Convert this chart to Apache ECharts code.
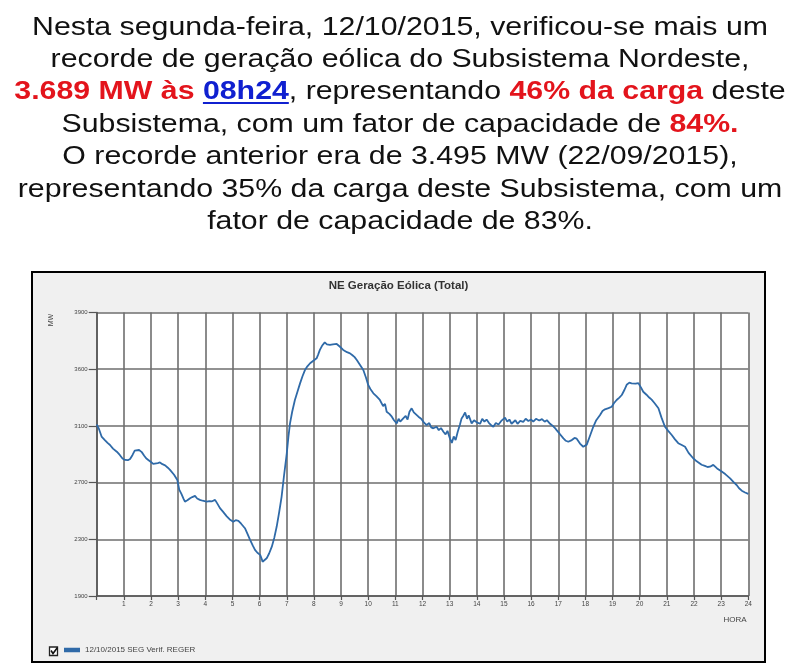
<!DOCTYPE html>
<html><head><meta charset="utf-8">
<script src="https://cdn.jsdelivr.net/npm/echarts@6/dist/echarts.min.js"></script>
<style>html,body{margin:0;padding:0;background:#fff}#c{width:800px;height:672px}</style>
</head><body><div id="c"></div>
<script>
// ---- data ----
const hours = [0.00,0.08,0.18,0.30,0.40,0.49,0.60,0.74,0.85,0.95,1.04,1.15,1.23,1.32,1.40,1.47,1.56,1.66,1.75,1.82,1.90,2.00,2.08,2.15,2.25,2.33,2.42,2.52,2.62,2.70,2.76,2.85,2.97,3.04,3.12,3.20,3.25,3.34,3.44,3.52,3.62,3.70,3.80,3.90,4.05,4.15,4.25,4.36,4.45,4.54,4.65,4.79,4.90,5.03,5.12,5.22,5.32,5.46,5.55,5.65,5.75,5.83,5.92,6.02,6.08,6.11,6.18,6.26,6.35,6.45,6.54,6.63,6.72,6.81,6.90,7.00,7.06,7.12,7.20,7.30,7.40,7.49,7.58,7.67,7.76,7.86,7.98,8.10,8.16,8.22,8.30,8.40,8.48,8.59,8.70,8.84,8.95,9.08,9.15,9.22,9.33,9.42,9.50,9.58,9.70,9.82,9.92,10.00,10.08,10.19,10.30,10.43,10.55,10.62,10.68,10.78,10.87,10.95,11.05,11.12,11.18,11.29,11.38,11.45,11.52,11.60,11.68,11.75,11.85,11.95,12.05,12.15,12.25,12.32,12.40,12.52,12.60,12.68,12.77,12.85,12.92,13.01,13.08,13.15,13.22,13.30,13.38,13.44,13.50,13.57,13.64,13.70,13.81,13.90,14.00,14.12,14.20,14.28,14.36,14.45,14.53,14.61,14.70,14.80,14.90,15.04,15.12,15.20,15.28,15.34,15.42,15.50,15.60,15.71,15.80,15.90,16.00,16.08,16.18,16.30,16.40,16.50,16.58,16.70,16.80,16.88,16.94,17.05,17.19,17.28,17.37,17.50,17.60,17.68,17.80,17.92,18.05,18.15,18.29,18.40,18.54,18.63,18.72,18.85,18.97,19.05,19.15,19.25,19.34,19.44,19.52,19.62,19.70,19.76,19.85,19.95,20.05,20.13,20.25,20.35,20.44,20.55,20.69,20.80,20.93,21.05,21.18,21.30,21.42,21.55,21.67,21.80,21.97,22.10,22.28,22.40,22.50,22.59,22.71,22.85,23.02,23.15,23.33,23.45,23.57,23.66,23.76,23.88,24.00];
const mw = [3110,3080,3025,3000,2980,2965,2940,2918,2895,2870,2860,2858,2866,2895,2925,2935,2930,2915,2890,2872,2860,2845,2832,2824,2838,2842,2830,2822,2805,2790,2778,2755,2718,2650,2620,2585,2566,2575,2590,2598,2606,2588,2578,2572,2566,2570,2568,2578,2550,2520,2495,2462,2440,2424,2435,2430,2410,2378,2340,2296,2255,2225,2205,2190,2160,2142,2150,2166,2200,2248,2310,2390,2490,2600,2750,2905,3020,3118,3200,3283,3345,3400,3450,3494,3520,3542,3560,3577,3605,3636,3665,3689,3675,3671,3675,3678,3660,3636,3645,3620,3612,3598,3585,3565,3530,3494,3440,3389,3360,3330,3310,3283,3240,3255,3200,3185,3165,3140,3118,3150,3130,3153,3170,3145,3200,3224,3195,3205,3165,3150,3125,3106,3120,3090,3083,3094,3070,3085,3059,3040,3065,3012,2980,3025,3000,3060,3110,3153,3170,3195,3150,3175,3118,3140,3125,3115,3150,3130,3145,3120,3105,3094,3120,3110,3135,3158,3130,3145,3115,3118,3140,3115,3135,3128,3150,3135,3145,3130,3150,3138,3148,3130,3140,3115,3100,3085,3070,3045,3012,2995,2988,3000,3015,3010,2975,2953,2968,3020,3094,3140,3177,3205,3217,3225,3235,3260,3283,3300,3318,3355,3390,3405,3400,3410,3398,3402,3370,3341,3320,3300,3285,3260,3224,3160,3094,3065,3036,3005,2978,2965,2953,2910,2872,2850,2826,2818,2810,2812,2825,2800,2778,2760,2730,2705,2683,2660,2643,2630,2620];
const xTickLabels = ['','1','2','3','4','5','6','7','8','9','10','11','12','13','14','15','16','17','18','19','20','21','22','23','24'];
const yTickValues = [1900,2300,2700,3100,3500,3900];
const yTickLabels = ['1900','2300','2700','3100','3600','3900'];
const seriesName = '12/10/2015 SEG Verif. REGER';
const chartTitle = 'NE Geração Eólica (Total)';
const yName = 'MW';
const xName = 'HORA';
const headerLines = [
  [['n','Nesta segunda-feira, 12/10/2015, verificou-se mais um']],
  [['n','recorde de geração eólica do Subsistema Nordeste,']],
  [['r','3.689 MW às '],['u','08h24'],['n',', representando '],['r','46% da carga'],['n',' deste']],
  [['n','Subsistema, com um fator de capacidade de '],['r','84%.']],
  [['n','O recorde anterior era de 3.495 MW (22/09/2015),']],
  [['n','representando 35% da carga deste Subsistema, com um']],
  [['n','fator de capacidade de 83%.']]
];

// ---- layout / style ----
const FONT = 'Liberation Sans, Arial, sans-serif';
const HFS = 30.3, HSY = 0.85;
const headerCenters = [28, 60, 92, 125, 157, 190, 222];
const RED = '#e3141c', BLUE = '#1020d0', INK = '#111';
const rich = {
  n: {fontSize: HFS, fontFamily: FONT, fill: INK, color: INK},
  r: {fontSize: HFS, fontFamily: FONT, fill: RED, color: RED, fontWeight: 'bold'},
  u: {fontSize: HFS, fontFamily: FONT, fill: BLUE, color: BLUE, fontWeight: 'bold'}
};

const cv = document.createElement('canvas').getContext('2d');
function w(txt, bold){ cv.font = (bold?'bold ':'') + HFS + 'px ' + FONT; return cv.measureText(txt).width; }

const graphics = [];
graphics.push({type:'rect', z:-10, shape:{x:32, y:272, width:733, height:390},
  style:{fill:'#f0f0f0', stroke:'#000', lineWidth:2}});
headerLines.forEach((segs, i) => {
  const text = segs.map(s => '{' + s[0] + '|' + s[1] + '}').join('');
  graphics.push({type:'text', x:400, y:headerCenters[i], scaleY:HSY,
    style:{text:text, rich:rich, x:0, y:0, align:'center', verticalAlign:'middle', fontSize:HFS, fontFamily:FONT, fill:INK}});
  let total = 0; const widths = segs.map(s => { const ww = w(s[1], s[0] !== 'n'); total += ww; return ww; });
  let xx = 400 - total/2;
  segs.forEach((s, j) => {
    if (s[0] === 'u') {
      graphics.push({type:'line', shape:{x1:xx, y1:headerCenters[i]+11, x2:xx+widths[j], y2:headerCenters[i]+11},
        style:{stroke:BLUE, lineWidth:2}});
    }
    xx += widths[j];
  });
});
graphics.push({type:'text', x:398.5, y:286, style:{text:chartTitle, align:'center', verticalAlign:'middle',
  fontSize:11.5, fontWeight:'bold', fontFamily:FONT, fill:'#333'}});
graphics.push({type:'text', x:51.5, y:320, rotation:Math.PI/2, style:{text:yName, align:'center', verticalAlign:'middle',
  fontSize:7, fontFamily:FONT, fill:'#444'}});
graphics.push({type:'text', x:735, y:620, style:{text:xName, align:'center', verticalAlign:'middle',
  fontSize:8, fontFamily:FONT, fill:'#444'}});
graphics.push({type:'rect', shape:{x:49.5, y:647, width:8, height:8.5}, style:{fill:'#fff', stroke:'#222', lineWidth:1.3}});
graphics.push({type:'polyline', shape:{points:[[51,650.5],[53,653.5],[57.5,647.5]]}, style:{stroke:'#111', lineWidth:1.6, fill:null}});

const GRID = '#6e6e6e';
const option = {
  animation: false,
  backgroundColor: '#fff',
  textStyle: {fontFamily: FONT},
  grid: {left: 96.7, right: 51.7, top: 312.5, bottom: 76, show: true, backgroundColor: '#fff', borderWidth: 0},
  xAxis: {type: 'value', min: 0, max: 24, interval: 1,
    axisLine: {show: true, lineStyle: {color: '#555', width: 1.5}},
    axisTick: {show: true, length: 4, lineStyle: {color: '#555', width: 1.2}},
    axisLabel: {fontSize: 6.5, color: '#444', margin: 5, formatter: v => xTickLabels[Math.round(v)]},
    splitLine: {show: true, lineStyle: {color: GRID, width: 1.6}}},
  yAxis: {type: 'value', min: 1900, max: 3900, interval: 400,
    axisLine: {show: true, lineStyle: {color: '#555', width: 1.5}},
    axisTick: {show: true, length: 8, lineStyle: {color: '#555', width: 1.2}},
    axisLabel: {fontSize: 6, color: '#444', margin: 9, formatter: v => yTickLabels[yTickValues.indexOf(v)]},
    splitLine: {show: true, lineStyle: {color: GRID, width: 1.6}}},
  legend: {data: [seriesName], left: 64, top: 646, icon: 'rect', itemWidth: 16, itemHeight: 4.5, padding: 0,
    textStyle: {fontSize: 8, color: '#444', fontFamily: FONT}},
  series: [{type: 'line', name: seriesName, data: hours.map((h, i) => [h, mw[i]]),
    showSymbol: false, symbol: 'none', lineStyle: {color: '#2f6aa8', width: 1.8}, itemStyle: {color: '#2f6aa8'}}],
  graphic: graphics
};
echarts.init(document.getElementById('c')).setOption(option);
</script></body></html>
